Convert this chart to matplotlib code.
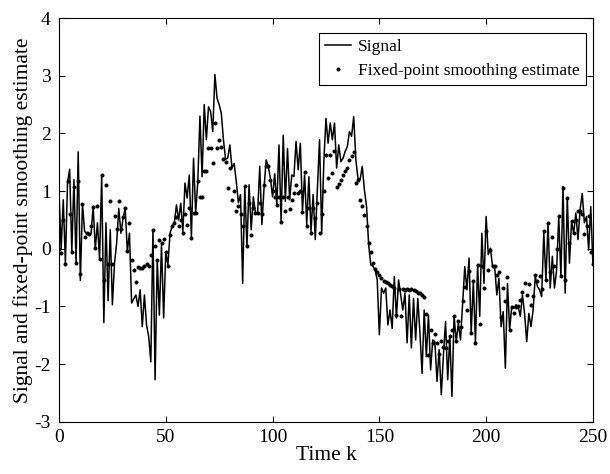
import numpy as np
import matplotlib
matplotlib.use("Agg")
import matplotlib.pyplot as plt

plt.rcParams['font.family'] = ['Liberation Serif', 'DejaVu Serif']
plt.rcParams['axes.unicode_minus'] = False

# signal x(k), k = 0..250
signal = [
    1.00, 0.00, 0.85, -0.25, 1.15, 1.38, -0.05, 1.20, -0.25, 1.68,
    -0.55, 0.77, 0.30, 0.27, 0.26, 0.26, 0.73, 0.00, 0.45, -0.18,
    1.28, -1.28, 0.45, -0.90, 0.33, -0.97, -0.25, 0.10, 0.70, 0.27,
    0.53, 0.70, -0.04, 0.27, -0.94, -0.87, -0.80, -1.00, -0.71, -1.35,
    -0.80, -1.32, -1.52, -1.96, 0.33, -2.27, -0.19, -1.15, 0.07, -1.20,
    -0.05, -0.28, 0.27, 0.39, 0.45, 0.76, 0.50, 0.79, 0.30, 1.14,
    0.88, 1.28, 0.21, 1.57, 0.62, 1.17, 2.30, 1.25, 2.50, 1.89,
    2.46, 2.38, 2.03, 3.02, 2.61, 2.50, 2.35, 1.89, 1.55, 1.57,
    1.80, 1.40, 1.48, 1.17, 0.80, 0.94, -0.60, 1.08, 0.04, 1.11,
    0.33, 0.90, 0.62, 0.62, 1.43, 0.42, 1.05, 1.54, 1.43, 1.22,
    0.90, 1.30, 0.76, 1.80, 0.47, 1.97, 0.82, 1.74, 0.85, 1.28,
    1.25, 1.86, 1.37, 1.83, 0.65, 1.28, 0.42, 1.25, 0.30, 0.94,
    0.16, 1.05, 1.89, 0.27, 1.50, 2.26, 1.83, 2.18, 1.89, 2.18,
    1.40, 1.80, 1.51, 1.57, 1.69, 1.77, 2.03, 1.95, 2.29, 1.54,
    1.22, 1.20, 1.43, 1.02, 0.74, 0.07, -0.28, -0.30, -0.37, -0.54,
    -1.49, -0.68, -0.77, -0.68, -1.32, -1.06, -1.38, -0.48, -1.20, -0.54,
    -0.80, -1.06, -0.77, -1.63, -0.80, -1.72, -0.86, -1.58, -0.86, -1.45,
    -2.16, -1.06, -1.87, -1.15, -2.10, -1.58, -1.61, -2.30, -1.75, -2.53,
    -1.84, -1.26, -2.27, -1.52, -2.56, -1.17, -1.61, -1.29, -1.58, -0.94,
    -0.31, -0.71, -0.16, -1.46, -0.57, -1.63, -0.28, -1.17, 0.27, -0.60,
    0.56, -0.10, 0.01, -0.31, -0.31, -0.80, -0.51, -1.35, -1.09, -2.07,
    -0.60, -1.40, -1.00, -1.03, -0.97, -1.00, -1.17, -0.80, -1.12, -1.61,
    -1.12, -1.35, -1.06, -0.48, -0.65, -0.71, -0.83, 0.28, -0.55, 0.45,
    -0.68, -0.13, -0.68, -0.37, 0.56, -0.48, 1.08, -0.77, 0.88, -0.25,
    0.47, 0.27, 0.62, 0.16, 0.68, 0.96, 0.45, 0.56, -0.02, 0.73,
    -0.27,
]

# fixed-point smoothing estimate, k = 0..250
estimate = [
    0.00, -0.08, 0.50, -0.26, 1.17, 0.60, -0.06, 1.07, -0.25, 1.17,
    -0.43, 0.77, 0.20, 0.27, 0.26, 0.40, 0.73, 0.01, 0.74, -0.18,
    1.28, -0.54, 1.10, -0.27, 0.82, -0.27, 0.57, 0.34, 0.82, 0.34,
    0.55, 0.70, -0.04, 0.44, -0.19, -0.36, -0.57, -0.32, -0.33, -0.33,
    -0.30, -0.26, -0.30, -0.10, 0.32, 0.05, -0.19, 0.16, 0.10, 0.17,
    -0.05, -0.30, 0.24, 0.39, 0.45, 0.55, 0.39, 0.50, 0.27, 0.60,
    0.42, 0.70, 0.18, 0.62, 0.62, 1.17, 0.90, 0.90, 1.34, 1.34,
    1.74, 1.74, 1.48, 2.18, 1.74, 1.89, 1.77, 1.55, 1.50, 1.05,
    1.40, 0.85, 1.00, 0.66, 0.75, 0.60, 0.40, 1.08, 0.04, 0.80,
    0.24, 0.70, 0.62, 0.62, 0.80, 0.60, 1.11, 1.43, 1.43, 1.20,
    1.00, 0.90, 0.76, 0.90, 0.47, 0.90, 0.65, 0.90, 0.69, 0.85,
    0.97, 1.10, 0.97, 1.00, 0.63, 1.33, 0.40, 0.70, 0.27, 0.70,
    0.53, 0.80, 0.27, 0.60, 1.00, 1.62, 1.22, 1.62, 1.31, 1.70,
    1.07, 1.12, 1.20, 1.28, 1.34, 1.40, 1.54, 1.60, 1.67, 1.14,
    1.20, 0.85, 0.75, 0.59, 0.40, 0.10, -0.06, -0.25, -0.35, -0.40,
    -0.46, -0.50, -0.55, -0.58, -0.60, -0.62, -0.65, -0.68, -1.15, -0.70,
    -1.17, -0.70, -0.71, -0.70, -0.72, -0.70, -0.72, -0.74, -0.76, -0.77,
    -0.80, -0.84, -1.13, -1.84, -1.40, -1.63, -1.48, -1.63, -1.82, -1.60,
    -1.70, -1.72, -1.60, -1.52, -1.40, -1.17, -1.59, -1.26, -1.36, -0.91,
    -0.66, -1.06, -0.39, -1.46, -0.55, -1.63, -0.28, -1.30, -0.30, -0.68,
    0.30, -0.36, -0.02, -0.30, -0.30, -0.45, -0.41, -1.18, -0.68, -0.90,
    -0.49, -1.40, -1.01, -1.12, -1.01, -0.99, -0.88, -0.75, -0.60, -0.80,
    -0.61, -0.97, -0.82, -0.45, -0.55, -0.47, -0.70, 0.30, -0.54, 0.45,
    -0.40, 0.20, -0.30, 0.00, 0.56, -0.48, 1.06, -0.54, 0.88, 0.10,
    0.49, 0.28, 0.50, 0.66, 0.66, 0.60, 0.26, 0.39, 0.56, -0.05,
    -0.27,
]

k = np.arange(len(signal))

fig = plt.figure(figsize=(6.1, 4.74), dpi=100)
ax = fig.add_axes([0.0967, 0.110, 0.8753, 0.852])

ax.plot(k, signal, color='black', linewidth=1.1, label='Signal')
ax.plot(k, estimate, linestyle='none', marker='.', markersize=3.8,
        color='black', label='Fixed-point smoothing estimate')

ax.set_xlim(0, 250)
ax.set_ylim(-3, 4)
ax.set_xticks([0, 50, 100, 150, 200, 250])
ax.set_yticks([-3, -2, -1, 0, 1, 2, 3, 4])
ax.tick_params(direction='in', top=True, right=True, length=4,
               labelsize=14, width=0.8)
ax.tick_params(axis='x', pad=5)
ax.tick_params(axis='y', pad=6)
for s in ax.spines.values():
    s.set_linewidth(0.8)

ax.set_xlabel('Time k', fontsize=15.5, labelpad=0)
ax.set_ylabel('Signal and fixed-point smoothing estimate', fontsize=15.5, labelpad=1)

leg = ax.legend(loc='upper right', bbox_to_anchor=(0.987, 0.963),
                borderaxespad=0, fancybox=False, framealpha=1,
                edgecolor='black', fontsize=12.5, handlelength=1.5,
                handletextpad=0.4, borderpad=0.35, labelspacing=0.45)
leg.get_frame().set_linewidth(0.8)

fig.savefig('out.png', dpi=100)
